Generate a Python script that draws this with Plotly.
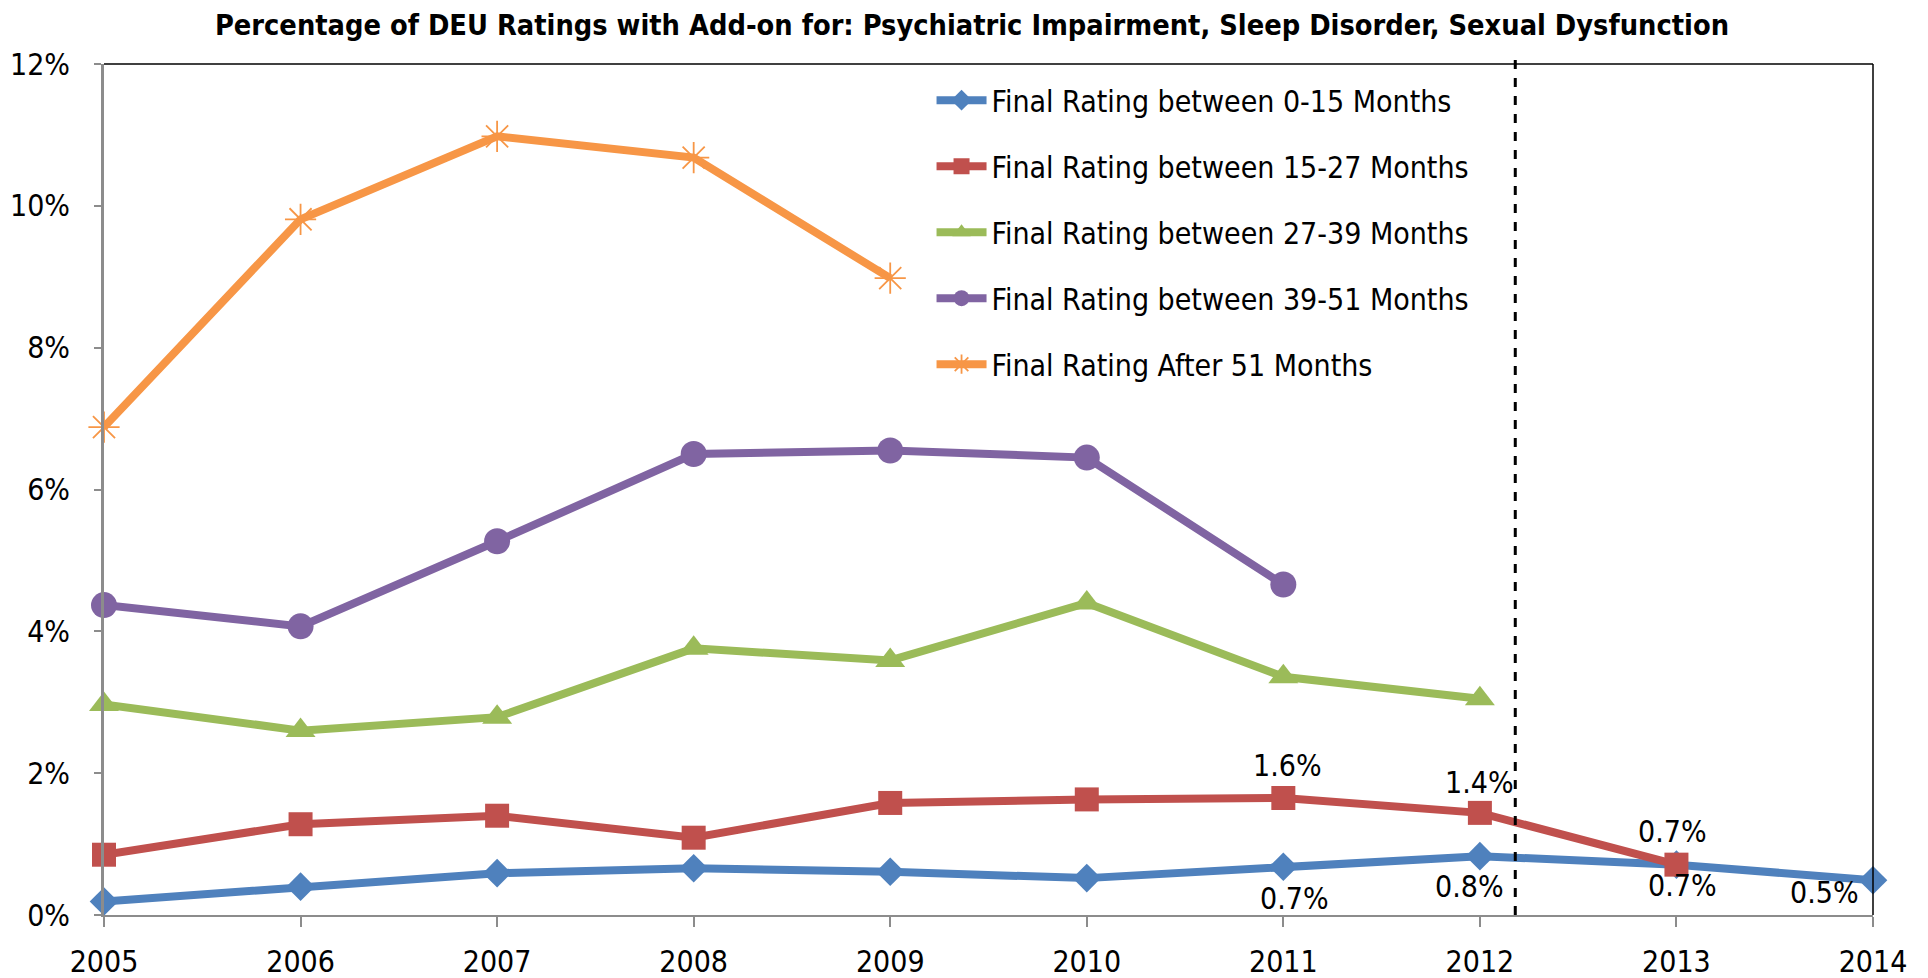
import plotly.graph_objects as go

FONT = "DejaVu Sans Condensed, Liberation Sans, sans-serif"

years = [2005, 2006, 2007, 2008, 2009, 2010, 2011, 2012, 2013, 2014]

names = [
    "Final Rating between 0-15 Months",
    "Final Rating between 15-27 Months",
    "Final Rating between 27-39 Months",
    "Final Rating between 39-51 Months",
    "Final Rating After 51 Months",
]

# percentages (as fractions)
r0_15 = [0.0019, 0.0040, 0.0059, 0.0066, 0.0061, 0.0052, 0.0068, 0.0083, 0.0071, 0.0049]
r15_27 = [0.0085, 0.0128, 0.0140, 0.0109, 0.0158, 0.0163, 0.0165, 0.0144, 0.0071]
r27_39 = [0.0297, 0.0260, 0.0279, 0.0376, 0.0359, 0.0440, 0.0336, 0.0305]
r39_51 = [0.0437, 0.0407, 0.0527, 0.0650, 0.0655, 0.0645, 0.0466]
r51_up = [0.0688, 0.0981, 0.1098, 0.1068, 0.0898]

# data labels shown on the chart (series index, point index, text)
point_labels = [
    (0, 6, "0.7%"), (0, 7, "0.8%"), (0, 8, "0.7%"), (0, 9, "0.5%"),
    (1, 6, "1.6%"), (1, 7, "1.4%"), (1, 8, "0.7%"),
]
# pixel offsets of each label from its point
label_shift = [(11, -32), (-10, -30), (6, -21), (-49, -12),
               (4, 32), (0, 30), (-4, 33)]

cutoff_year = 2012.18

colors = ["#4F81BD", "#C0504D", "#9BBB59", "#8064A2", "#F79646"]
symbols = ["diamond", "square", "triangle-up", "circle", "asterisk-open"]
sizes = [22, 24, 26, 26, 26]
series = [r0_15, r15_27, r27_39, r39_51, r51_up]

fig = go.Figure()
for i, vals in enumerate(series):
    marker = dict(symbol=symbols[i], size=sizes[i], color=colors[i])
    if symbols[i] == "asterisk-open":
        marker["line"] = dict(color=colors[i], width=1.8)
    fig.add_trace(go.Scatter(
        x=years[:len(vals)], y=vals, name=names[i], legendgroup=str(i),
        mode="lines+markers", line=dict(color=colors[i], width=8),
        marker=marker, cliponaxis=False,
    ))

for (s, p, txt), (dx, dy) in zip(point_labels, label_shift):
    fig.add_annotation(x=years[p], y=series[s][p], text=txt, showarrow=False,
                       xshift=dx, yshift=dy, font=dict(family=FONT, size=30, color="#000000"))

# dashed cutoff line
fig.add_shape(type="line", x0=cutoff_year, x1=cutoff_year, y0=0, y1=1.01,
              xref="x", yref="paper", line=dict(color="black", width=3, dash="dash"))
# top and right border
fig.add_shape(type="line", x0=0, x1=1, y0=1, y1=1, xref="paper", yref="paper",
              line=dict(color="black", width=1.5))
fig.add_shape(type="line", x0=1, x1=1, y0=0, y1=1, xref="paper", yref="paper",
              line=dict(color="black", width=1.5))

fig.update_layout(
    width=1928, height=978,
    margin=dict(l=96, r=63, t=56, b=71),
    paper_bgcolor="white", plot_bgcolor="white",
    font=dict(family=FONT, size=30, color="#000000"),
    title=dict(text="<b>Percentage of DEU Ratings with Add-on for: Psychiatric Impairment, Sleep Disorder, Sexual Dysfunction</b>",
               x=0.5, xanchor="center", y=0.983, yanchor="middle",
               font=dict(family=FONT, size=28.7)),
    legend=dict(x=0.4678, y=0.988, xanchor="left", yanchor="top",
                bgcolor="rgba(0,0,0,0)", itemwidth=50, tracegroupgap=24,
                font=dict(family=FONT, size=30)),
    xaxis=dict(range=[2005, 2014], tickvals=years, showgrid=False, zeroline=False,
               showline=True, linecolor="#8C8C8C", linewidth=2,
               ticks="outside", ticklen=10, tickcolor="#8C8C8C", tickwidth=2,
               ticklabelstandoff=9, automargin=False),
    yaxis=dict(range=[0, 0.12], dtick=0.02, tickformat=".0%", showgrid=False, zeroline=False,
               showline=True, linecolor="#8C8C8C", linewidth=3,
               ticks="outside", ticklen=7, tickcolor="#8C8C8C", tickwidth=2,
               ticklabelstandoff=18, automargin=False),
)

fig.write_html("out.html")
